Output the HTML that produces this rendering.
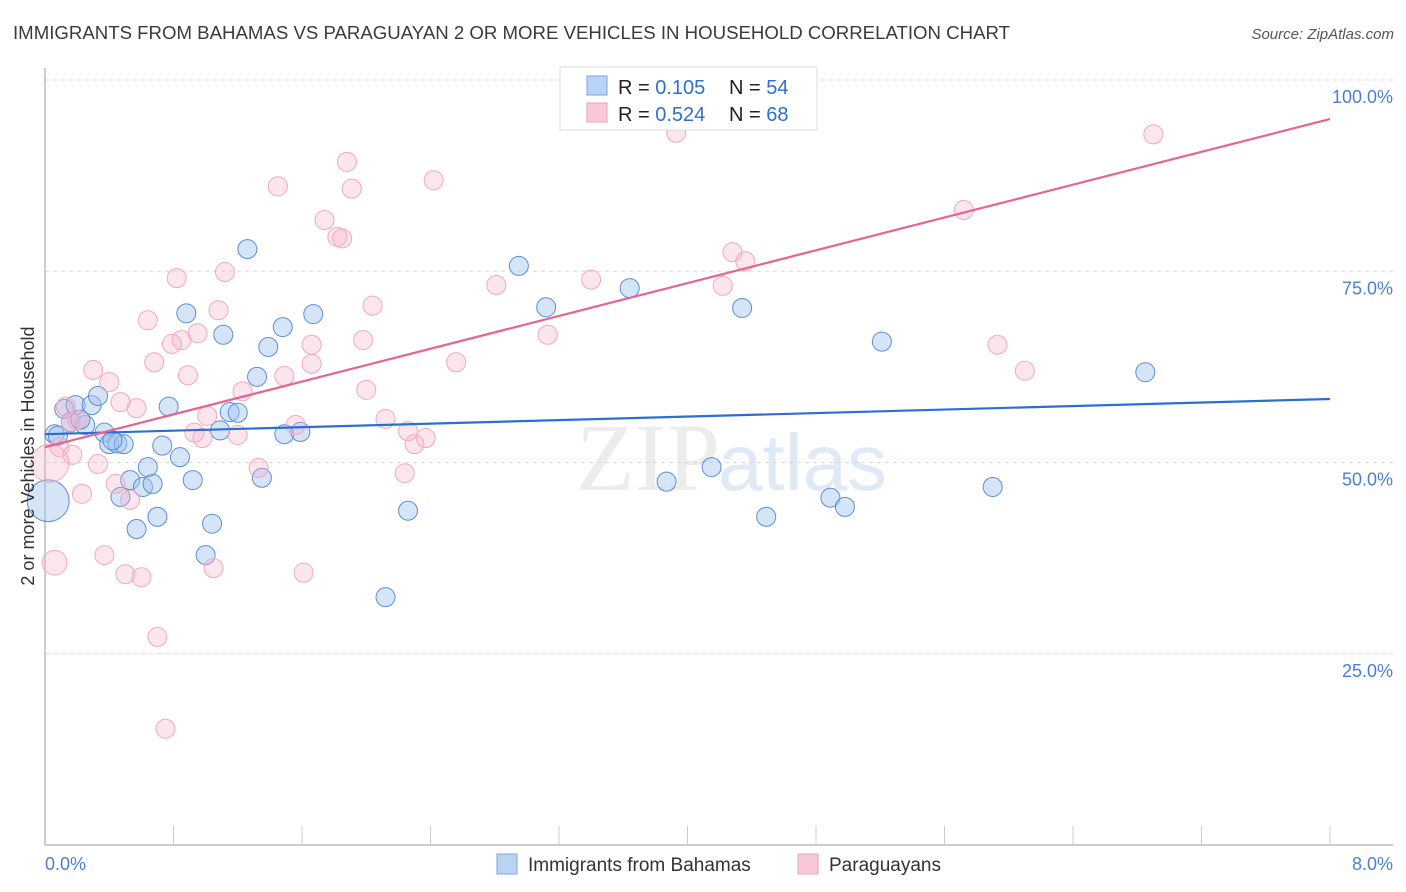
<!DOCTYPE html>
<html><head><meta charset="utf-8"><style>
body{margin:0;background:#fff;font-family:"Liberation Sans",sans-serif;}
svg{display:block}
</style></head><body>
<svg width="1406" height="892" xmlns="http://www.w3.org/2000/svg">
<text x="13" y="39" font-size="18" fill="#3a3a3a" textLength="997" lengthAdjust="spacingAndGlyphs">IMMIGRANTS FROM BAHAMAS VS PARAGUAYAN 2 OR MORE VEHICLES IN HOUSEHOLD CORRELATION CHART</text>
<text x="1394" y="39" font-size="15" fill="#555" font-style="italic" text-anchor="end">Source: ZipAtlas.com</text>
<text x="720" y="490" font-size="96" fill="#ececec" text-anchor="end" font-family="Liberation Serif">ZIP</text>
<text x="718" y="490" font-size="80" fill="#e0eaf7">atlas</text>
<g id="grid"></g>
<g id="axes"></g>
<g id="pts"></g>
<g id="lines"></g>
<text transform="translate(34,456) rotate(-90)" font-size="18" fill="#333" text-anchor="middle">2 or more Vehicles in Household</text>
<text x="45" y="870" font-size="18" fill="#4a7fd4">0.0%</text>
<text x="1393" y="870" font-size="18" fill="#4a7fd4" text-anchor="end">8.0%</text>
<g>
<rect x="560" y="67" width="257" height="63" fill="#fff" stroke="#ddd"/>
<rect x="587" y="76" width="20" height="19" fill="#b9d3f5" stroke="#7ba5e0"/>
<rect x="587" y="103" width="20" height="19" fill="#f9c8d8" stroke="#eba0b8"/>
<text x="618" y="94" font-size="20" fill="#222">R = <tspan fill="#2f6fd1">0.105</tspan><tspan x="729">N = </tspan><tspan fill="#2f6fd1">54</tspan></text>
<text x="618" y="121" font-size="20" fill="#222">R = <tspan fill="#2f6fd1">0.524</tspan><tspan x="729">N = </tspan><tspan fill="#2f6fd1">68</tspan></text>
</g>
<g>
<rect x="497" y="854" width="20" height="20" fill="#b9d3f5" stroke="#7ba5e0"/>
<text x="528" y="871" font-size="19" fill="#333">Immigrants from Bahamas</text>
<rect x="798" y="854" width="20" height="20" fill="#f9c8d8" stroke="#eba0b8"/>
<text x="829" y="871" font-size="19" fill="#333">Paraguayans</text>
</g>
</svg>
<script>
const yTicks=[100,75,50,25];
const yTickLabels=["100.0%","75.0%","50.0%","25.0%"];
const xTicks=[0.8,1.6,2.4,3.2,4.0,4.8,5.6,6.4,7.2,8.0];
const blueX=[.06,.08,.12,.16,.19,.25,.22,.29,.33,.37,.40,.45,.49,.42,.47,.53,.57,.61,.67,.64,.70,.73,.77,.84,.88,.92,1.00,1.04,1.09,1.11,1.15,1.20,1.26,1.35,1.32,1.39,1.48,1.49,1.59,1.67,2.12,2.26,2.95,3.12,3.64,3.87,4.15,4.34,4.49,4.89,4.98,5.21,5.90,6.85,.02];
const blueY=[53.7,53.5,57.0,55.3,57.5,54.9,55.6,57.5,58.7,53.9,52.4,52.5,52.4,52.9,45.5,47.7,41.3,46.8,47.2,49.4,42.9,52.2,57.3,50.7,69.5,47.7,37.9,42.0,54.2,66.7,56.6,56.5,77.9,48.0,61.2,65.1,67.7,53.7,54.0,69.4,32.4,43.7,75.7,70.3,72.8,47.5,49.4,70.2,42.9,45.4,44.2,65.8,46.8,61.8,45.0];
const blueSize=[1,1,1,1,1,1,1,1,1,1,1,1,1,1,1,1,1,1,1,1,1,1,1,1,1,1,1,1,1,1,1,1,1,1,1,1,1,1,1,1,1,1,1,1,1,1,1,1,1,1,1,1,1,1,2.2];
const pinkX=[.13,.16,.20,.09,.17,.03,.06,.23,.33,.37,.30,.40,.44,.47,.50,.53,.57,.60,.64,.68,.70,.75,.79,.82,.85,.89,.95,.98,.93,1.01,1.05,1.08,1.12,1.20,1.23,1.33,1.45,1.49,1.56,1.61,1.66,1.66,1.74,1.82,1.85,1.88,1.91,1.98,2.00,2.04,2.12,2.24,2.26,2.30,2.37,2.42,2.56,2.81,3.13,3.40,3.93,4.22,4.28,4.36,5.72,5.93,6.10,6.90];
const pinkY=[57.3,55.2,55.6,52.0,51.0,49.9,36.9,45.9,49.8,37.9,62.1,60.5,47.2,57.9,35.4,45.1,57.1,35.0,68.6,63.1,27.2,15.2,65.5,74.1,66.0,61.4,66.9,53.2,53.9,56.1,36.2,69.9,74.9,53.6,59.3,49.3,86.1,61.3,54.9,35.6,65.4,62.9,81.7,79.5,79.3,89.3,85.8,66.0,59.5,70.5,55.7,48.6,54.1,52.4,53.2,86.9,63.1,73.2,66.7,73.9,93.1,73.1,77.5,76.3,83.0,65.4,62.0,92.9];
const pinkSize=[1,1,1,1,1,2,1.3,1,1,1,1,1,1,1,1,1,1,1,1,1,1,1,1,1,1,1,1,1,1,1,1,1,1,1,1,1,1,1,1,1,1,1,1,1,1,1,1,1,1,1,1,1,1,1,1,1,1,1,1,1,1,1,1,1,1,1,1,1];
const blueTrend=[53.7,58.3];
const pinkTrend=[52.0,94.9];
const X0=45,X1=1330,Y0=845,Y100=80;
const sx=v=>X0+(v/8)*(X1-X0);
const sy=v=>Y0-(v/100)*(Y0-Y100);
const NS="http://www.w3.org/2000/svg";
function mk(tag,attrs,parent){const e=document.createElementNS(NS,tag);for(const k in attrs)e.setAttribute(k,attrs[k]);parent.appendChild(e);return e;}
const grid=document.getElementById('grid'),axes=document.getElementById('axes'),pts=document.getElementById('pts'),lines=document.getElementById('lines');
yTicks.forEach((t,i)=>{
 const l=mk('line',{x1:X0,x2:1393,y1:sy(t),y2:sy(t),stroke:'#d8d8d8','stroke-dasharray':'4,4'},grid);
 
 
 const tx=mk('text',{x:1393,y:sy(t)+23,'font-size':18,fill:'#4a7fd4','text-anchor':'end'},grid);
 tx.textContent=yTickLabels[i];
 
 
});
const ya=mk('line',{x1:X0,x2:X0,y1:68,y2:Y0,stroke:'#bbb','stroke-width':1.5},axes);


const xa=mk('line',{x1:X0,x2:1393,y1:Y0,y2:Y0,stroke:'#bbb','stroke-width':1.5},axes);


xTicks.forEach(t=>{
 const l=mk('line',{x1:sx(t),x2:sx(t),y1:826,y2:Y0,stroke:'#ccc'},axes);
 
 
});
blueX.forEach((x,i)=>{
 const c=mk('circle',{cx:sx(x),cy:sy(blueY[i]),r:9.5*blueSize[i],fill:'rgba(164,196,240,0.45)',stroke:'#5b8fd9','stroke-width':1},pts);
 
 
});
pinkX.forEach((x,i)=>{
 const c=mk('circle',{cx:sx(x),cy:sy(pinkY[i]),r:9.5*pinkSize[i],fill:'rgba(246,178,200,0.32)',stroke:'#f0a8c0','stroke-width':1},pts);
 
 
});
const bl=mk('line',{x1:sx(0),x2:sx(8),y1:sy(blueTrend[0]),y2:sy(blueTrend[1]),stroke:'#2a6fd4','stroke-width':2.2},lines);


const pl=mk('line',{x1:sx(0),x2:sx(8),y1:sy(pinkTrend[0]),y2:sy(pinkTrend[1]),stroke:'#e8638e','stroke-width':2.2},lines);


</script>
</body></html>
